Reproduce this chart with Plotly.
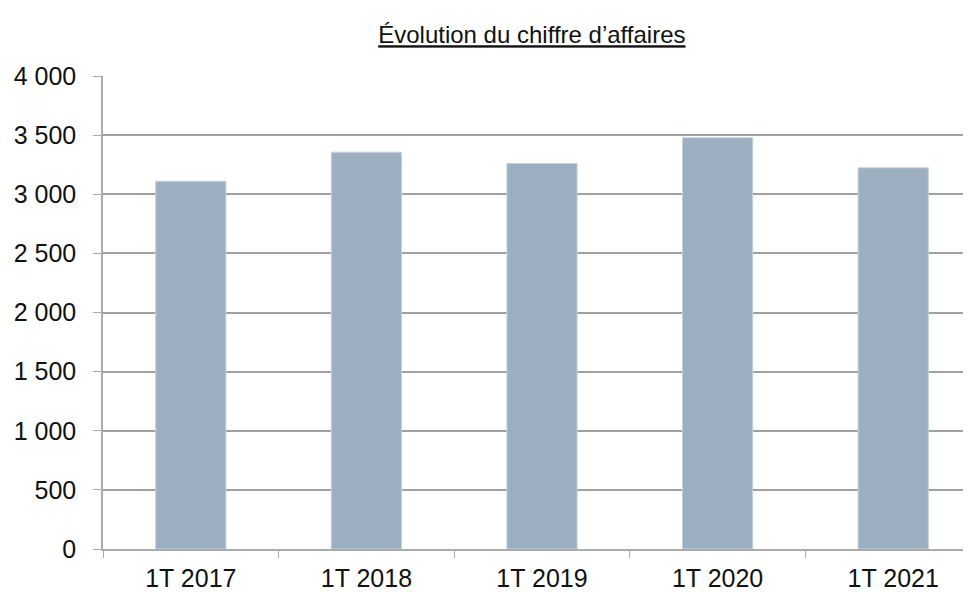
import plotly.graph_objects as go

categories = ["1T 2017", "1T 2018", "1T 2019", "1T 2020", "1T 2021"]
revenue = [3110, 3356, 3260, 3478, 3224]
y_tick_values = [0, 500, 1000, 1500, 2000, 2500, 3000, 3500, 4000]
y_tick_labels = ["0", "500", "1 000", "1 500", "2 000", "2 500", "3 000", "3 500", "4 000"]

fig = go.Figure(go.Bar(
    x=categories, y=revenue,
    width=0.4,
    marker=dict(color="#9CAFC0", line=dict(color="#C5D2DD", width=1)),
))

font_family = "Liberation Sans, Arial, Helvetica, sans-serif"

# The page body has an 8px default margin, so the figure is 8px smaller
fig.update_layout(
    width=963, height=584,
    margin=dict(l=95, r=0, t=68, b=43),
    paper_bgcolor="white", plot_bgcolor="white",
    showlegend=False,
    font=dict(family=font_family, size=25, color="#111111"),
    title=dict(text="<u>Évolution du chiffre d’affaires</u>",
               x=0.544, xanchor="center", y=0.954, yanchor="middle",
               font=dict(size=24, family=font_family, color="#111111")),
    bargap=0.6,
)
fig.update_xaxes(
    type="category", range=[-0.5, 4.443],
    showline=True, linecolor="#ABABAB", linewidth=1.5,
    ticks="outside", tickson="boundaries", ticklen=7, tickcolor="#ABABAB", tickwidth=1,
    showgrid=False, ticklabelstandoff=6,
    tickfont=dict(size=25),
)
fig.update_yaxes(
    range=[0, 4000], tickmode="array", tickvals=y_tick_values, ticktext=y_tick_labels,
    showline=True, linecolor="#ABABAB", linewidth=1.5,
    ticks="outside", ticklen=8, tickcolor="#ABABAB", tickwidth=1,
    showgrid=True, gridcolor="#A0A0A0", gridwidth=1.5,
    zeroline=False, ticklabelstandoff=12,
    tickfont=dict(size=25),
)

fig.write_html("out.html")
